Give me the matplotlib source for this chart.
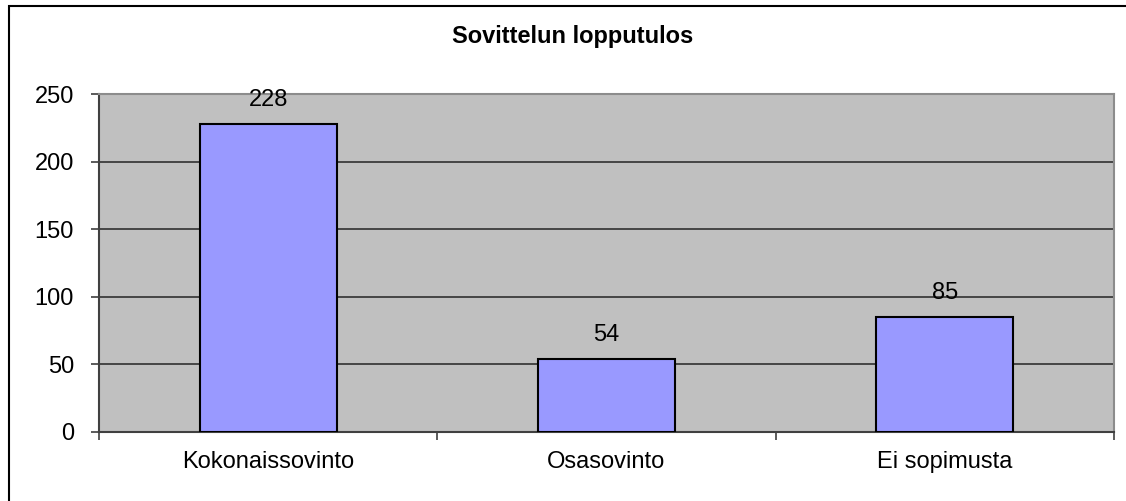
import matplotlib.pyplot as plt
import numpy as np
from matplotlib.patches import Rectangle

plt.rcParams['font.family'] = ['Liberation Sans', 'DejaVu Sans']

categories = ["Kokonaissovinto", "Osasovinto", "Ei sopimusta"]
values = [228, 54, 85]
yticks = [0, 50, 100, 150, 200, 250]
title = "Sovittelun lopputulos"

fig = plt.figure(figsize=(11.26, 5.01), dpi=100)
# chart border (only left/top edges fall inside the picture)
fig.patches.append(Rectangle((9 / 1126, -0.1), 1.2, 1.1 - 6 / 501, transform=fig.transFigure,
                             fill=False, edgecolor='black', linewidth=1.5))
ax = fig.add_axes([99 / 1126, 1 - 432 / 501, (1114 - 99) / 1126, (432 - 94) / 501])
ax.set_facecolor('#C0C0C0')

x = np.arange(len(categories))
ax.bar(x, values, width=0.405, color='#9999FF', edgecolor='black', linewidth=1.5, zorder=3)
for xi, v in zip(x, values):
    ax.annotate(str(v), (xi, v), xytext=(0, 13), textcoords='offset points',
                ha='center', va='baseline', fontsize=17)

ax.set_xlim(-0.5, 2.5)
ax.set_ylim(0, 250)
ax.set_yticks(yticks)
ax.yaxis.grid(True, color='#303030', linewidth=1.2, zorder=1)
ax.set_axisbelow(True)
ax.tick_params(axis='y', labelsize=17, length=6, width=1.2, color='#404040', pad=12)

ax.set_xticks([-0.5, 0.5, 1.5, 2.5])
ax.set_xticklabels([])
ax.tick_params(axis='x', which='major', length=6, width=1.2, color='#404040')
ax.set_xticks(x, minor=True)
ax.set_xticklabels(categories, minor=True)
ax.tick_params(axis='x', which='minor', length=0, labelsize=17, pad=14)

for s in ['left', 'bottom']:
    ax.spines[s].set_color('#404040')
    ax.spines[s].set_linewidth(1.5)
for s in ['top', 'right']:
    ax.spines[s].set_color('#8C8C8C')
    ax.spines[s].set_linewidth(1.5)

fig.text(573 / 1126, 1 - 43 / 501, title, ha='center', va='baseline', fontsize=17, fontweight='bold')

fig.savefig("out.png", dpi=100)
